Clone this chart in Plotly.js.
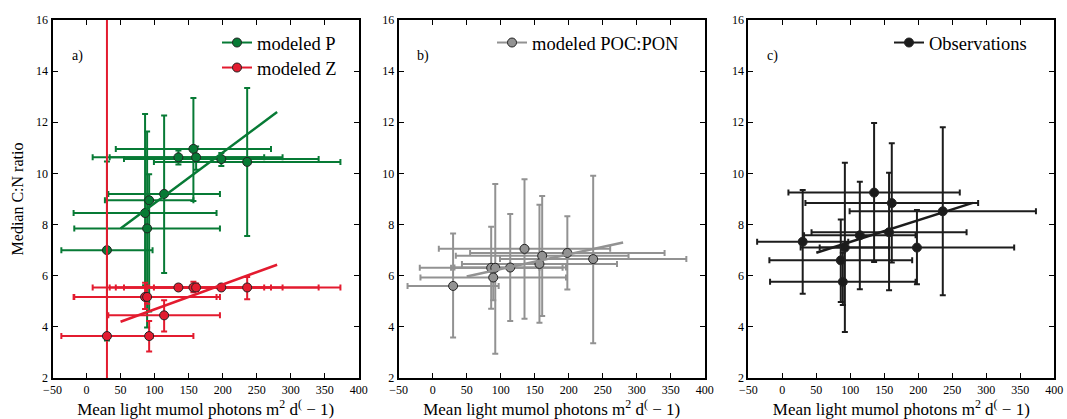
<!DOCTYPE html>
<html>
<head>
<meta charset="utf-8">
<script src="https://cdn.plot.ly/plotly-3.0.1.min.js"></script>
<style>html,body{margin:0;padding:0;background:#fff;}#chart{width:1067px;height:419px;}</style>
</head>
<body>
<div id="chart"></div>
<script>
// ---- data ----
const lightMean = [30, 86, 89, 92, 114, 135, 157, 161, 198, 236];
const lightErr  = [67, 105, 107, 65, 82, 126, 114, 127, 143, 137];

const pMedian = [7.0, 8.45, 7.85, 8.95, 9.2, 10.63, 10.96, 10.63, 10.56, 10.45];
const pUpper  = [10.47, 12.32, 11.64, 9.97, 12.27, 10.9, 12.95, 11.05, 10.8, 13.34];
const pLower  = [3.47, 5.63, 3.97, 4.6, 6.11, 10.35, 8.92, 10.14, 10.29, 7.55];

const zMedian = [3.64, 5.17, 5.17, 3.64, 4.45, 5.54, 5.54, 5.54, 5.54, 5.54];
const zUpper  = [30, 5.72, 5.62, 4.23, 5.04, 5.65, 5.76, 5.7, 5.65, 5.95];
const zLower  = [-20, 4.7, 4.9, 3.04, 3.82, 5.45, 5.35, 5.4, 5.45, 5.08];

const pocMedian = [5.6, 6.31, 5.93, 6.31, 6.32, 7.05, 6.46, 6.78, 6.89, 6.65];
const pocUpper  = [7.65, 7.91, 6.45, 9.59, 8.41, 9.77, 8.78, 9.12, 8.33, 9.91];
const pocLower  = [3.58, 4.71, 5.04, 2.95, 4.23, 4.32, 4.16, 4.42, 5.46, 3.36];

const obsMedian = [7.33, 6.6, 5.76, 7.1, 7.58, 9.25, 7.7, 8.84, 7.1, 8.52];
const obsUpper  = [9.35, 8.2, 6.9, 10.42, 9.67, 11.97, 10.03, 11.18, 8.57, 11.81];
const obsLower  = [5.29, 4.97, 4.85, 3.8, 5.47, 6.54, 5.43, 6.52, 5.67, 5.24];

const fitX   = [50, 280];
const fitP   = [7.85, 12.4];
const fitZ   = [4.2, 6.43];
const fitPOC = [5.97, 7.3];
const fitObs = [6.9, 8.85];

const xTickVals = [-50, 0, 50, 100, 150, 200, 250, 300, 350, 400];
const yTickVals = [2, 4, 6, 8, 10, 12, 14, 16];
const panelLabels = ['a)', 'b)', 'c)'];
const xTitle = 'Mean light mumol photons m<sup>2</sup> d<sup>(</sup> \u2212 1)';
const yTitle = 'Median C:N ratio';

// ---- styles ----
const serif = 'Liberation Serif, DejaVu Serif, serif';
const GREEN = '#077a35', RED = '#e31b2f', GRAY = '#929292', BLACK = '#1c1c1c';
const EDGE = '#232323';

function minus(med, low) { return med.map((v, i) => v - low[i]); }
function plus(med, up) { return med.map((v, i) => up[i] - v); }

function errTrace(ax, med, up, low, color, name) {
  return {
    type: 'scatter', mode: 'markers', xaxis: 'x' + ax, yaxis: 'y' + ax,
    x: lightMean, y: med, name: name, showlegend: false, cliponaxis: true,
    marker: {size: 9, color: color, line: {color: EDGE, width: 1}},
    error_x: {type: 'data', array: lightErr, color: color, thickness: 2, width: 3},
    error_y: {type: 'data', symmetric: false, array: plus(med, up), arrayminus: minus(med, low),
              color: color, thickness: 2, width: 3}
  };
}
function fitTrace(ax, yv, color) {
  return {type: 'scatter', mode: 'lines', xaxis: 'x' + ax, yaxis: 'y' + ax,
          x: fitX, y: yv, showlegend: false, hoverinfo: 'skip',
          line: {color: color, width: 2.5}};
}
function legendTrace(ax, color, name, legend) {
  return {type: 'scatter', mode: 'lines+markers', xaxis: 'x' + ax, yaxis: 'y' + ax,
          x: [null], y: [null], name: name, legend: legend, showlegend: true,
          marker: {size: 9, color: color, line: {color: EDGE, width: 1}},
          line: {color: color, width: 2}};
}

const data = [
  errTrace('', pMedian, pUpper, pLower, GREEN, 'modeled P'),
  errTrace('', zMedian, zUpper, zLower, RED, 'modeled Z'),
  fitTrace('', fitP, GREEN),
  fitTrace('', fitZ, RED),
  errTrace('2', pocMedian, pocUpper, pocLower, GRAY, 'modeled POC:PON'),
  fitTrace('2', fitPOC, GRAY),
  errTrace('3', obsMedian, obsUpper, obsLower, BLACK, 'Observations'),
  fitTrace('3', fitObs, BLACK),
  legendTrace('', GREEN, 'modeled P', 'legend'),
  legendTrace('', RED, 'modeled Z', 'legend4'),
  legendTrace('2', GRAY, 'modeled POC:PON', 'legend2'),
  legendTrace('3', BLACK, 'Observations', 'legend3')
];

const W = 1067, TOP = 20, BOT = 378;
function py(px) { return (BOT - px) / (BOT - TOP); }
function xax(d0, d1, anchor) {
  return {
    domain: [d0 / W, d1 / W], anchor: anchor, range: [-50, 400],
    tickmode: 'array', tickvals: xTickVals,
    ticks: 'inside', ticklen: 5, tickwidth: 1, tickcolor: '#000',
    showline: true, linewidth: 2, linecolor: '#000', mirror: 'allticks',
    showgrid: false, zeroline: false,
    tickfont: {family: serif, size: 12, color: '#000'},
    title: {text: xTitle, font: {family: serif, size: 17, color: '#000'}, standoff: 9}
  };
}
function yax(anchor, withTitle) {
  const a = {
    domain: [0, 1], anchor: anchor, range: [2, 16],
    tickmode: 'array', tickvals: yTickVals,
    ticks: 'inside', ticklen: 5, tickwidth: 1, tickcolor: '#000',
    showline: true, linewidth: 2, linecolor: '#000', mirror: 'allticks',
    showgrid: false, zeroline: false,
    tickfont: {family: serif, size: 12, color: '#000'}
  };
  if (withTitle) a.title = {text: yTitle, font: {family: serif, size: 16, color: '#000'}, standoff: 8};
  return a;
}
function legendBox(xpx, ypx) {
  return {x: xpx / W, y: py(ypx), xanchor: 'left', yanchor: 'top',
          bgcolor: 'rgba(0,0,0,0)', borderwidth: 0,
          font: {family: serif, size: 18.5, color: '#000'}, itemwidth: 30, tracegroupgap: 0};
}

const layout = {
  width: 1067, height: 419,
  margin: {l: 0, r: 0, t: TOP, b: 419 - BOT},
  paper_bgcolor: '#fff', plot_bgcolor: '#fff',
  showlegend: true,
  xaxis: xax(52.5, 358.8, 'y'),
  yaxis: yax('x', true),
  xaxis2: xax(398.7, 704.7, 'y2'),
  yaxis2: yax('x2', false),
  xaxis3: xax(748.3, 1054.3, 'y3'),
  yaxis3: yax('x3', false),
  legend: legendBox(217, 24),
  legend4: legendBox(217, 49),
  legend2: legendBox(492, 24),
  legend3: legendBox(889, 24),
  annotations: panelLabels.map((t, i) => ({
    text: t, xref: 'x' + (i ? i + 1 : '') + ' domain', yref: 'paper',
    x: 0.08, y: py(56), xanchor: 'center', yanchor: 'middle', showarrow: false,
    font: {family: serif, size: 14, color: '#000'}
  }))
};

Plotly.newPlot('chart', data, layout, {staticPlot: true, displayModeBar: false});
</script>
</body>
</html>
